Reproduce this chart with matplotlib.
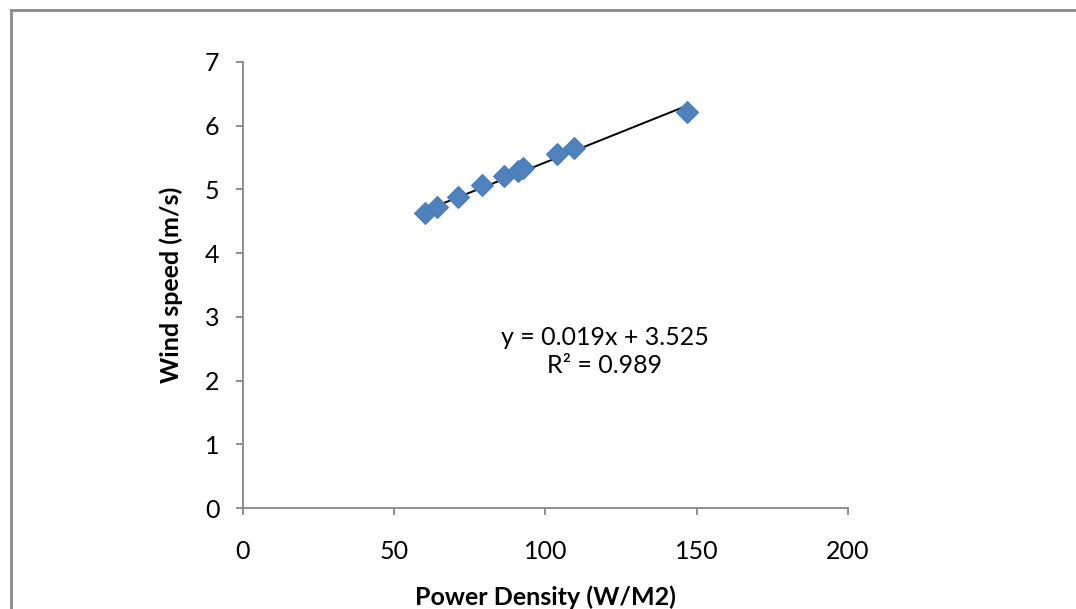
import numpy as np
import matplotlib
matplotlib.use("Agg")
import matplotlib.pyplot as plt

# ---------------------------------------------------------------------------
# Data
# ---------------------------------------------------------------------------
power_density = [60.2, 64.0, 71.2, 78.9, 86.3, 91.0, 92.7, 103.7, 109.4, 146.9]
wind_speed    = [4.63, 4.73, 4.88, 5.07, 5.21, 5.29, 5.33, 5.55, 5.65, 6.22]

slope, intercept, r2 = 0.019, 3.525, 0.989

x_ticks = [0, 50, 100, 150, 200]
y_ticks = [0, 1, 2, 3, 4, 5, 6, 7]

plt.rcParams["font.family"] = ["Lato", "DejaVu Sans"]
AXIS_GREY = "#868686"

fig = plt.figure(figsize=(10.76, 6.09), dpi=100)
ax = fig.add_axes([0.2258, 0.1658, 0.5622, 0.7324])

# trend line over the data range
xs = np.array([min(power_density), max(power_density)])
ax.plot(xs, slope * xs + intercept, color="black", linewidth=1.4, zorder=2)

ax.plot(power_density, wind_speed, linestyle="none", marker="D", markersize=11,
        markerfacecolor="#4F81BD", markeredgecolor="#4A7DBA", markeredgewidth=0.8,
        zorder=3)

ax.text(119.7, 2.46, f"y = {slope:.3f}x + {intercept:.3f}\nR² = {r2:.3f}",
        ha="center", va="center", fontsize=18, linespacing=1.25)

ax.set_xlim(0, 200)
ax.set_ylim(0, 7)
ax.set_xticks(x_ticks)
ax.set_yticks(y_ticks)
ax.tick_params(labelsize=18, direction="out", length=5, width=1.3, color=AXIS_GREY)
ax.tick_params(axis="x", pad=18)
ax.tick_params(axis="y", pad=12)

for side in ["top", "right"]:
    ax.spines[side].set_visible(False)
for side in ["left", "bottom"]:
    ax.spines[side].set_color(AXIS_GREY)
    ax.spines[side].set_linewidth(1.3)

ax.set_xlabel("Power Density (W/M2)", fontsize=18, fontweight="bold", labelpad=16)
ax.set_ylabel("Wind speed (m/s)", fontsize=18, fontweight="bold", labelpad=16)

# outer chart frame (top and left edges visible)
fig.add_artist(plt.Line2D([0.0098, 1.0], [0.984, 0.984], transform=fig.transFigure,
                          color="#8A8A8A", linewidth=2))
fig.add_artist(plt.Line2D([0.0098, 0.0098], [0.0, 0.984], transform=fig.transFigure,
                          color="#8A8A8A", linewidth=2))

fig.savefig("out.png", dpi=100)
